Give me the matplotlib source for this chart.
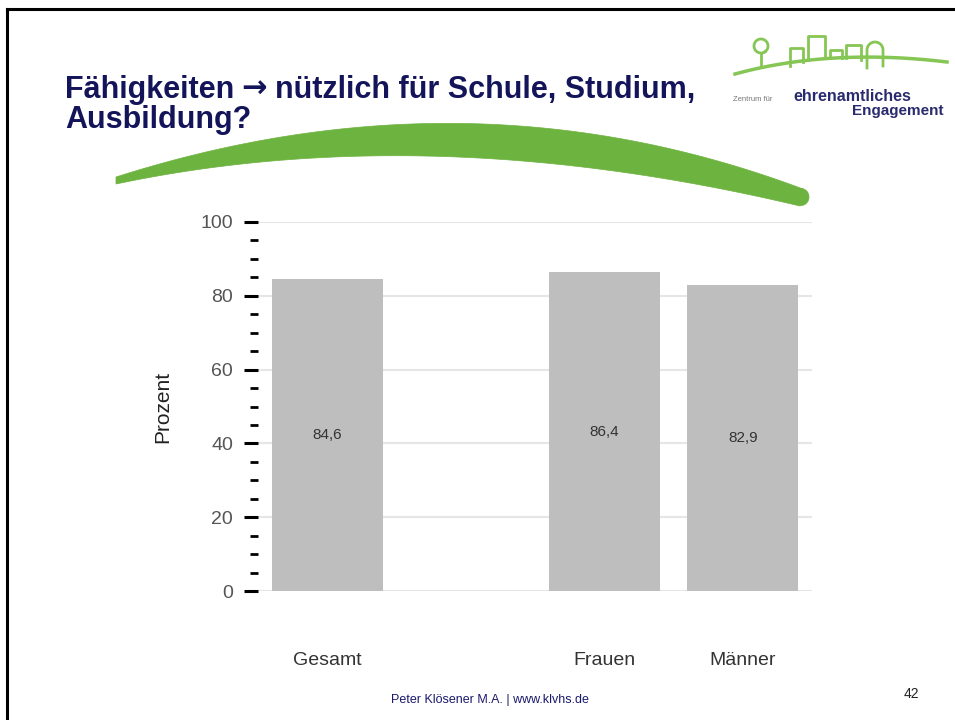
import numpy as np
import matplotlib
matplotlib.use("Agg")
import matplotlib.pyplot as plt
from matplotlib.patches import Polygon

plt.rcParams['font.family'] = ['Liberation Sans', 'DejaVu Sans']

# ---- data ----
categories = ["Gesamt", "", "Frauen", "Männer"]
positions = [0, 2, 3]
bar_labels = ["Gesamt", "Frauen", "Männer"]
values = [84.6, 86.4, 82.9]
value_texts = ["84,6", "86,4", "82,9"]
yticks_major = [0, 20, 40, 60, 80, 100]

W, H = 955, 720
fig = plt.figure(figsize=(W / 100, H / 100), dpi=100)
fig.patch.set_facecolor("white")

# background overlay axes in pixel coordinates (decorations)
bg = fig.add_axes([0, 0, 1, 1], zorder=0)
bg.set_xlim(0, W)
bg.set_ylim(H, 0)
bg.axis("off")

# slide border (left and top)
bg.plot([7, 7], [9, H], color="black", lw=2.2, solid_capstyle="projecting")
bg.plot([7, W], [9, 9], color="black", lw=2.2, solid_capstyle="projecting")

# green swoosh
def qbez(p0, c, p2, n=100):
    t = np.linspace(0, 1, n)[:, None]
    p0, c, p2 = map(np.array, (p0, c, p2))
    return (1 - t) ** 2 * p0 + 2 * (1 - t) * t * c + t ** 2 * p2

top = qbez((116, 177), (470, 64), (803, 189))
ang = np.linspace(-np.pi / 2, np.pi / 2, 24)
end = np.column_stack([801 + 8 * np.cos(ang), 197 + 8.5 * np.sin(ang)])
bot = qbez((800, 206), (430, 118), (116, 184))
swoosh = np.vstack([top, end, bot])
bg.add_patch(Polygon(swoosh, closed=True, facecolor="#6db33f", edgecolor="#6db33f", lw=0.5))

# logo (approximation)
g = "#86c654"
hill = qbez((735, 74), (830, 48), (947, 62))
bg.plot(hill[:, 0], hill[:, 1], color=g, lw=2.5)
tt = np.linspace(0.3 * np.pi, 2.3 * np.pi, 40)
bg.plot(761 + 7 * np.cos(tt), 46 + 7 * np.sin(tt), color=g, lw=2)
bg.plot([761, 761], [53, 66], color=g, lw=2)
bg.plot([790, 790, 803, 803], [66, 48, 48, 62], color=g, lw=2)
bg.plot([808, 808, 825, 825], [60, 36, 36, 58], color=g, lw=2)
bg.plot([830, 830, 842, 842], [58, 50, 50, 58], color=g, lw=2)
bg.plot([846, 846, 861, 861], [58, 45, 45, 60], color=g, lw=2)
fa = np.linspace(np.pi, 2 * np.pi, 20)
bg.plot(np.r_[867, 867, 875 + 8 * np.cos(fa), 883, 883],
        np.r_[68, 50, 50 + 8 * np.sin(fa), 50, 66], color=g, lw=2)
bg.text(733, 101, "Zentrum für", fontsize=5.5, color="#777777", va="baseline")
bg.text(793, 101, "ehrenamtliches", fontsize=11.5, fontweight="bold",
        color="#2a2a6e", ha="left", va="baseline")
bg.text(943, 115, "Engagement", fontsize=11, fontweight="bold",
        color="#2a2a6e", ha="right", va="baseline")

# title (arrow drawn in DejaVu Sans Bold for a heavier glyph)
title_color = "#14145a"
tsize = 22
r = fig.canvas.get_renderer()
t1 = bg.text(65, 98, "Fähigkeiten", fontsize=tsize, fontweight="bold",
             color=title_color, va="baseline", ha="left")
x1 = bg.transData.inverted().transform(t1.get_window_extent(r))[1][0]
t2 = bg.text(x1 + 7, 98, "\u2192", fontsize=tsize, fontweight="bold",
             color=title_color, va="baseline", ha="left", family="DejaVu Sans")
x2 = bg.transData.inverted().transform(t2.get_window_extent(r))[1][0]
bg.text(x2 + 8, 98, "nützlich für Schule, Studium,", fontsize=tsize,
        fontweight="bold", color=title_color, va="baseline", ha="left")
bg.text(65, 128, "Ausbildung?", fontsize=tsize, fontweight="bold",
        color=title_color, va="baseline", ha="left")

# footer
bg.text(490, 703, "Peter Klösener M.A. | www.klvhs.de", fontsize=9,
        color="#1a1a6e", ha="center", va="baseline")
bg.text(911, 698, "42", fontsize=10, color="#222222", ha="center", va="baseline")

# ---- chart ----
ax = fig.add_axes([258 / W, 1 - 591 / H, (812 - 258) / W, (591 - 222) / H], zorder=1)
ax.set_facecolor("none")
ax.bar(positions, values, width=0.8, color="#bebebe", zorder=2)
for x, v, t in zip(positions, values, value_texts):
    ax.text(x, v / 2, t, ha="center", va="center", fontsize=11, color="#333333", zorder=3)

ax.set_xlim(-0.5, 3.5)
ax.set_ylim(0, 100)
ax.set_yticks(yticks_major)
ax.set_yticks(np.arange(0, 101, 5), minor=True)
ax.yaxis.grid(True, color="#e6e6e6", lw=1.5, zorder=0)
ax.set_axisbelow(True)
for s in ax.spines.values():
    s.set_visible(False)
ax.tick_params(axis="y", which="major", length=10, width=2.2, color="black",
               labelsize=14, labelcolor="#555555", pad=8)
ax.tick_params(axis="y", which="minor", length=5.5, width=2, color="black")
ax.set_xticks(positions)
ax.set_xticklabels(bar_labels)
ax.tick_params(axis="x", length=0, labelsize=14, labelcolor="#333333", pad=44)
ax.set_ylabel("Prozent", fontsize=15, color="#222222")
ax.yaxis.set_label_coords(-0.155, 0.5)

fig.savefig("out.png", dpi=100, facecolor="white")
